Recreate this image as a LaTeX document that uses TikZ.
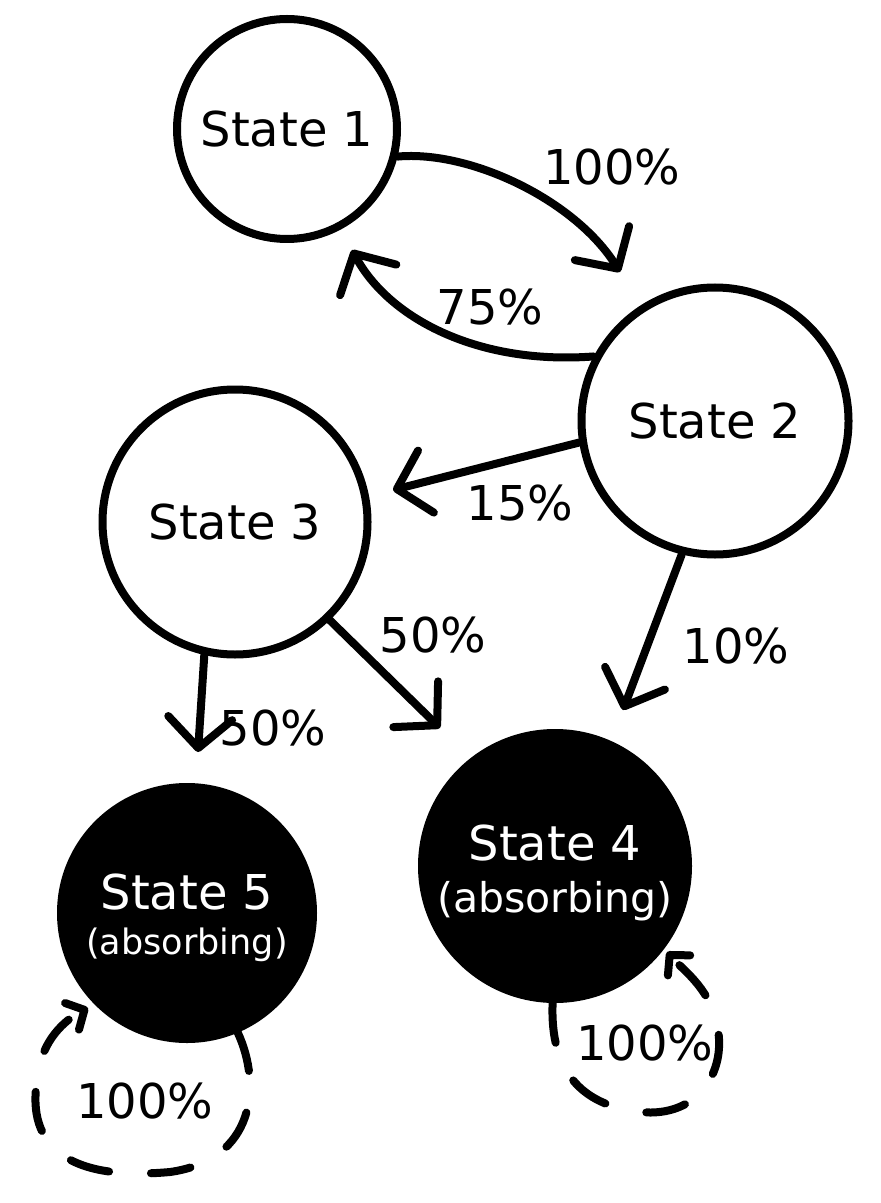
\documentclass[tikz,border=0pt]{standalone}
\usepackage{fontspec}
\setmainfont{DejaVu Sans}
\usetikzlibrary{arrows.meta}
\begin{document}
\begin{tikzpicture}[x=0.5pt,y=-0.5pt,
  state/.style={circle,draw=black,line width=4pt,inner sep=0pt,font=\fontsize{24}{28}\selectfont},
  absorb/.style={circle,draw=black,fill=black,line width=4pt,inner sep=0pt},
  wtext/.style={text=white,align=center,inner sep=0pt},
  lbl/.style={anchor=base,inner sep=0pt,font=\fontsize{24}{28}\selectfont},
  edge/.style={line width=4pt,line cap=round,-{Straight Barb[length=15pt,width=32pt,round]}},
  loopedge/.style={line width=4pt,line cap=round,dash pattern=on 20pt off 21pt,-{Straight Barb[length=7pt,width=15pt,round]}}
]
\fill[white] (0,0) rectangle (880,1203);
\useasboundingbox (0,0) rectangle (880,1203);

% states
\node[state,minimum size=110pt] (s1) at (287,129) {State 1};
\node[state,minimum size=133.5pt] (s2) at (715,421) {State 2};
\node[state,minimum size=132.5pt] (s3) at (235,522) {State 3};
\node[absorb,minimum size=133pt] (s4) at (555,866) {};
\node[absorb,minimum size=126pt] (s5) at (187,913) {};
\node[wtext,font=\fontsize{24}{26}\selectfont] (t4) at ([yshift=-3.5pt]s4.center) {State 4\\{\fontsize{20.5}{26}\selectfont (absorbing)}};
\node[wtext,font=\fontsize{24}{22.5}\selectfont] (t5) at ([yshift=-2.5pt]s5.center) {State 5\\{\fontsize{17.5}{22.5}\selectfont (absorbing)}};

% free arrow ends
\coordinate (e12) at (620,272);
\coordinate (e21) at (352,250);
\coordinate (e23) at (393,490);
\coordinate (e24) at (623,710);
\coordinate (e34) at (440,728);
\coordinate (e35) at (198,752);
\coordinate (e55) at (88,1008);
\coordinate (e44) at (667,952);

% transitions
\draw[edge] (s1.-14) .. controls (470,150) and (575,200) .. (e12);
\draw[edge] (s2.152.7) .. controls (480,365) and (390,320) .. (e21);
\draw[edge] (s2.189) -- (e23);
\draw[edge] (s2.-104) -- (e24);
\draw[edge] (s3.-46) -- (e34);
\draw[edge] (s3.-103) -- (e35);

% self loops
\draw[loopedge] (s5.-67) .. controls (262,1085) and (255,1160) .. (170,1172)
  .. controls (60,1182) and (25,1140) .. (38,1075)
  .. controls (42,1040) and (65,1020) .. (e55);
\draw[loopedge] (s4.-91) .. controls (550,1070) and (580,1105) .. (640,1112)
  .. controls (700,1118) and (725,1070) .. (718,1030)
  .. controls (712,990) and (685,972) .. (e44);

% labels
\node[lbl] (l12) at (612,185) {100\%};
\node[lbl] (l21) at (490,325) {75\%};
\node[lbl] (l23) at (520,520) {15\%};
\node[lbl] (l24) at (736,663) {10\%};
\node[lbl] (l34) at (433,652) {50\%};
\node[lbl] (l35) at (273,745) {50\%};
\node[lbl] (l55) at (145,1118) {100\%};
\node[lbl] (l44) at (645,1060) {100\%};
\end{tikzpicture}
\end{document}
